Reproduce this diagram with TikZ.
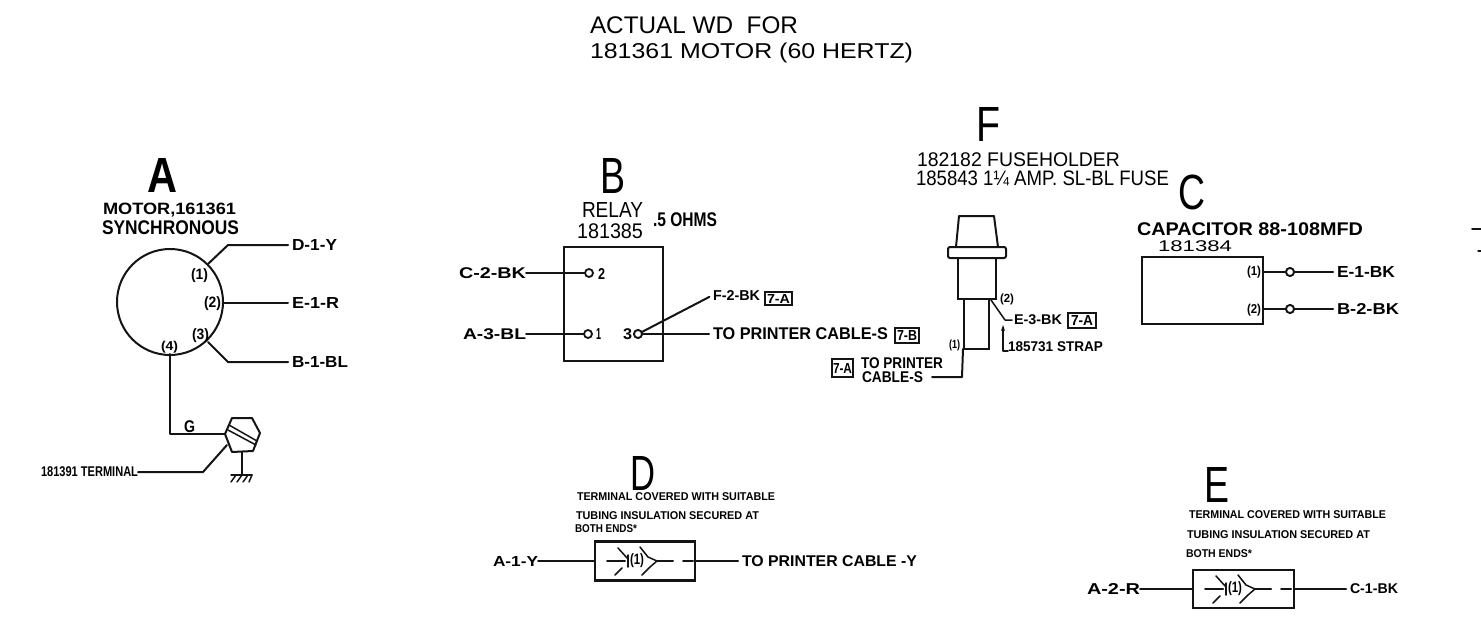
\documentclass[tikz,border=0pt]{standalone}
\usepackage{fontspec}
\setmainfont{Liberation Sans}
\usetikzlibrary{arrows.meta}
\newcommand\lab[7][\bfseries]{\node[anchor=west,inner sep=0pt,outer sep=0pt] (#2) at (#3,#4) {\resizebox*{#5pt}{#6pt}{\fontsize{12}{12}\selectfont#1{}#7}};}
\newcommand\tagbox[5]{\node[tagb,minimum width=#4pt,minimum height=#5pt] (#1) at (#2,#3) {};}
\newcommand\splice[3]{%
\begin{scope}[shift={(#2,#3)}]
\coordinate (#1a) at (607,561); \coordinate (#1b) at (625,561);
\coordinate (#1c) at (657,561); \coordinate (#1d) at (673,561);
\coordinate (#1e) at (683,561); \coordinate (#1f) at (693,561);
\draw[wire] (#1a) -- (#1b);
\draw[wire] (#1c) -- (#1d);
\draw[wire] (#1e) -- (#1f);
\draw[thin2] (618,548) -- (628,559) (615,575) -- (622,568);
\draw[thin2] (640,547) -- (648,557) -- (657,561) -- (650,567) -- (642,575);
\draw[thin2] (628,555) -- (628,567);
\lab[\bfseries]{#1t}{630}{561}{14}{14}{(1)}
\end{scope}}
\tikzset{
 wire/.style={line width=2pt,line cap=round,line join=round,black!92},
 tolab/.style={shorten >=4pt},
 thin2/.style={line width=1.5pt,line cap=round,line join=round,black!92},
 boxs/.style={draw=black!92,line width=2.4pt,inner sep=0pt,outer sep=0pt,fill=none},
 tagb/.style={draw=black!92,line width=1.5pt,inner sep=0pt,outer sep=0pt},
 term/.style={draw=black!92,line width=1.8pt,circle,fill=white,inner sep=0pt,outer sep=0pt,minimum size=8pt},
 tip/.style={-{Stealth[length=6pt,width=4pt]}}
}
\begin{document}
\begin{tikzpicture}[x=1pt,y=-1pt]
\useasboundingbox (0,0) rectangle (1481,623);
% title
\lab[\mdseries]{t1a}{590}{25}{208}{17}{ACTUAL WD\ \ FOR}
\lab[\mdseries]{t2a}{590}{53}{323}{20}{181361 MOTOR (60 HERTZ)}
% A
\lab{LA}{147}{175}{30}{34}{A}
\lab{a1}{103}{210}{133}{14}{MOTOR,161361}
\lab{a2}{102}{228}{137}{14}{SYNCHRONOUS}
\node[draw=black!92,line width=2pt,circle,minimum size=106pt,inner sep=0pt,outer sep=0pt] (motor) at (170,302) {};
\lab{da}{292}{245}{45}{11}{D-1-Y}
\lab{ea}{292}{303}{47}{11}{E-1-R}
\lab{ba}{292}{362}{56}{11}{B-1-BL}
\lab{p1}{191}{276}{17}{14}{(1)}
\lab{p2}{204}{304}{17}{14}{(2)}
\lab{p3}{192}{336}{17}{14}{(3)}
\lab{p4}{161}{347}{17}{12}{(4)}
\coordinate (l1s) at (208,264); \coordinate (l1k) at (228,245);
\coordinate (l2s) at (223,303);
\coordinate (l3s) at (208,342); \coordinate (l3k) at (228,362);
\coordinate (l4s) at (170,354); \coordinate (l4k) at (170,434);
\draw[wire,tolab] (l1s) -- (l1k) -- (da.west);
\draw[wire,tolab] (l2s) -- (ea.west);
\draw[wire,tolab] (l3s) -- (l3k) -- (ba.west);
\coordinate (h1) at (232,418); \coordinate (h2) at (252,418); \coordinate (h3) at (260,433);
\coordinate (h4) at (253,451); \coordinate (h5) at (232,452); \coordinate (h6) at (225,434);
\draw[wire] (h1) -- (h2) -- (h3) -- (h4) -- (h5) -- (h6) -- cycle;
\draw[thin2] (229,425) -- (257,441) (228,430) -- (256,445);
\draw[wire] (l4s) -- (l4k) -- (h6);
\lab{ga}{184}{427}{11}{12}{G}
\coordinate (g0) at (242,452); \coordinate (g1) at (242,474);
\draw[wire] (g0) -- (g1);
\draw[thin2] (231,475) -- (252,475);
\draw[thin2] (236,475) -- (231,482) (242,475) -- (237,482) (248,475) -- (243,482) (252,475) -- (249,482);
\lab{ta}{41}{472}{97}{10}{181391 TERMINAL}
\coordinate (tk) at (203,472); \coordinate (te) at (227,445);
\draw[wire] (ta.east) -- (tk) -- (te);
% B
\lab[\mdseries]{LB}{600}{176}{25}{35}{B}
\lab[\mdseries]{b1}{582}{210}{61}{15}{RELAY}
\lab[\mdseries]{b2}{577}{231}{66}{15}{181385}
\lab{b3}{653}{220}{64}{14}{.5 OHMS}
\node[boxs,minimum width=99pt,minimum height=114pt] (relay) at (613.5,304) {};
\lab{cb}{459}{273}{67}{11}{C-2-BK}
\lab{ab}{463}{334}{63}{11}{A-3-BL}
\node[term] (r2) at (589,273) {};
\node[term] (r1) at (588,334) {};
\node[term] (r3) at (638,334) {};
\lab{n2}{598}{274}{7}{11}{2}
\lab{n1}{596}{334}{5}{11}{1}
\lab{n3}{623}{334}{9}{11}{3}
\draw[wire] (cb.east) -- (r2);
\draw[wire] (ab.east) -- (r1);
\lab{fb}{713}{295}{47}{10}{F-2-BK}
\lab{pb}{713}{334}{175}{12}{TO PRINTER CABLE-S}
\draw[wire,tolab] (r3) -- (fb.west);
\draw[wire,tolab] (r3) -- (pb.west);
\node[term] at (r3) {};
\tagbox{tb1}{778.5}{298.5}{27}{13}
\lab{tb1t}{767}{298.5}{23}{9}{7-A}
\tagbox{tb2}{907}{335.5}{24}{15}
\lab{tb2t}{897}{335.5}{20}{10}{7-B}
% F
\lab[\mdseries]{LF}{976}{124}{24}{34}{F}
\lab[\mdseries]{f1}{917}{159.5}{203}{14}{182182 FUSEHOLDER}
\lab[\mdseries]{f2}{916}{178}{253}{15}{185843 1¼ AMP. SL-BL FUSE}
\coordinate (a1) at (959,216); \coordinate (a2) at (994,216);
\coordinate (a3) at (998,247); \coordinate (a4) at (956,247);
\draw[wire] (a4) -- (a1) -- (a2) -- (a3);
\node[draw=black!92,line width=2pt,rounded corners=2pt,minimum width=58pt,minimum height=11pt,inner sep=0pt,outer sep=0pt] (flange) at (977,252.5) {};
\node[draw=black!92,line width=2pt,minimum width=38pt,minimum height=41pt,inner sep=0pt,outer sep=0pt] (body) at (977,278.5) {};
\node[draw=black!92,line width=2pt,minimum width=25pt,minimum height=50pt,inner sep=0pt,outer sep=0pt] (lower) at (976.5,324) {};
\lab{f11}{949}{345}{11}{11}{(1)}
\lab{f12}{1000}{299}{14}{11}{(2)}
\lab{fe}{1014}{320}{48}{10}{E-3-BK}
\tagbox{tf1}{1082}{320.5}{28}{15}
\lab{tf1t}{1071}{320.5}{22}{10}{7-A}
\coordinate (s0) at (991,300); \coordinate (s1) at (1005,320);
\draw[thin2,shorten >=2pt] (s0) -- (s1) -- (fe.west);
\lab{fs}{1008}{347}{95}{10}{185731 STRAP}
\coordinate (q0) at (1003,351); \coordinate (q1) at (1003,325);
\draw[thin2,tip] (fs.west |- q0) -- (q0) -- (q1);
\lab{fp1}{861}{363}{82}{11}{TO PRINTER}
\lab{fp2}{862}{377}{61}{11}{CABLE-S}
\tagbox{tf2}{842.5}{368}{21}{18}
\lab{tf2t}{833}{368}{19}{10}{7-A}
\coordinate (u0) at (963,349); \coordinate (u1) at (962,377);
\draw[wire] (u0) -- (u1) -- ([xshift=9pt]fp2.east);
% C
\lab[\mdseries]{LC}{1178}{192}{27}{35}{C}
\lab{c1}{1137}{229.5}{226}{13}{CAPACITOR 88-108MFD}
\lab[\mdseries]{c2}{1158}{246}{74}{11}{181384}
\node[boxs,minimum width=121pt,minimum height=67pt] (cap) at (1202.5,290.5) {};
\lab{ce}{1337}{272}{58}{11}{E-1-BK}
\lab{cb2}{1337}{309}{62}{11}{B-2-BK}
\lab{c11}{1247}{272}{14}{12}{(1)}
\lab{c12}{1247}{310}{14}{12}{(2)}
\node[term] (ct1) at (1290,272) {};
\node[term] (ct2) at (1290,309) {};
\coordinate (cs1) at (1263,272); \coordinate (cs2) at (1263,309);
\draw[wire,tolab] (cs1) -- (ct1) -- (ce.west);
\draw[wire,tolab] (cs2) -- (ct2) -- (cb2.west);
\node[term] at (ct1) {};
\node[term] at (ct2) {};
% edge marks
\coordinate (m0) at (1472,229); \coordinate (m1) at (1481,229);
\coordinate (m2) at (1478,251); \coordinate (m3) at (1481,251);
\draw[wire] (m0) -- (m1);
\draw[thin2] (m2) -- (m3);
% D
\lab[\mdseries]{LD}{630}{473}{25}{34}{D}
\lab{d1}{577}{497}{198}{8}{TERMINAL COVERED WITH SUITABLE}
\lab{d2}{576}{516}{183}{8}{TUBING INSULATION SECURED AT}
\lab{d3}{575}{529}{62}{8}{BOTH ENDS*}
\node[boxs,minimum width=100pt,minimum height=39pt] (dbox) at (645,561) {};
\lab{da1}{493}{561}{45}{10}{A-1-Y}
\lab{dp}{742}{561}{175}{11}{TO PRINTER CABLE -Y}
\draw[wire] (da1.east) -- (dbox.west);
\draw[wire,tolab] (dbox.east) -- (dp.west);
\splice{ds}{0}{0}
% E
\lab[\mdseries]{LE}{1204}{485}{25}{35}{E}
\lab{e1}{1189}{515}{197}{8}{TERMINAL COVERED WITH SUITABLE}
\lab{e2}{1187}{535}{183}{8}{TUBING INSULATION SECURED AT}
\lab{e3}{1186}{554}{66}{8}{BOTH ENDS*}
\node[boxs,minimum width=101pt,minimum height=38pt] (ebox) at (1243.5,589) {};
\lab{ea1}{1087}{589}{53}{11}{A-2-R}
\lab{ec}{1350}{589}{48}{10}{C-1-BK}
\draw[wire] (ea1.east) -- (ebox.west);
\draw[wire,tolab] (ebox.east) -- (ec.west);
\splice{es}{598}{28}
\end{tikzpicture}
\end{document}
